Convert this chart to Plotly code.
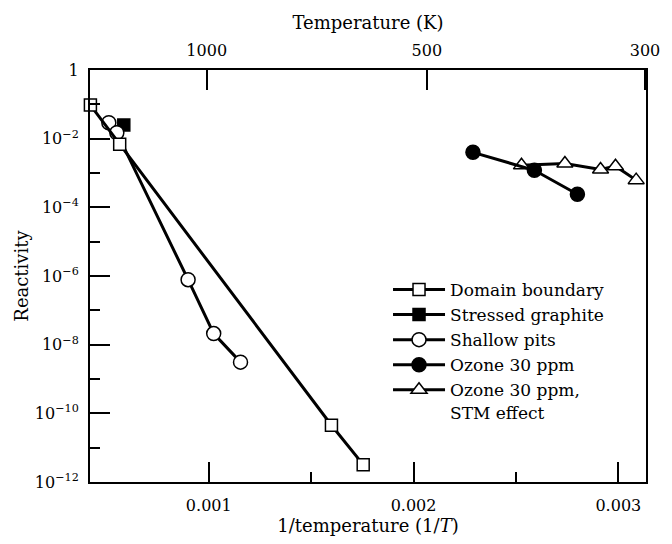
import plotly.graph_objects as go

# Reactivity versus inverse temperature for several oxidation mechanisms
domain_x = [0.000422, 0.000565, 0.001599, 0.001754]
domain_y = [0.095, 6.9e-3, 4.5e-11, 3.2e-12]

stressed_x = [0.000585]
stressed_y = [0.025]

pits_x = [0.000512, 0.000551, 0.000899, 0.001024, 0.001155]
pits_y = [0.029, 0.0149, 7.8e-7, 2.1e-8, 3.1e-9]

ozone_x = [0.00229, 0.00259, 0.00280]
ozone_y = [4.0e-3, 1.2e-3, 2.4e-4]

stm_x = [0.002527, 0.002739, 0.002913, 0.002986, 0.003087]
stm_y = [1.67e-3, 1.9e-3, 1.27e-3, 1.58e-3, 6.2e-4]

# axis ticks
x_ticks = [0.001, 0.002, 0.003]
x_ticktext = ["0.001", "0.002", "0.003"]
x_minor = [0.0015, 0.0025]
temp_tick_pos = [0.00099, 0.002065, 0.00313]
temp_ticktext = ["1000", "500", "300"]
y_major = [1e-12, 1e-10, 1e-8, 1e-6, 1e-4, 1e-2, 1]
y_ticktext = ["10<sup>−12</sup>", "10<sup>−10</sup>", "10<sup>−8</sup>",
              "10<sup>−6</sup>", "10<sup>−4</sup>", "10<sup>−2</sup>", "1"]
y_minor = [1e-11, 1e-9, 1e-7, 1e-5, 1e-3, 1e-1]

FONT = "DejaVu Serif"
LINE = dict(color="black", width=3)


def series(name, x, y, symbol, fill, size, rank):
    return go.Scatter(
        x=x, y=y, name=name, mode="lines+markers", line=LINE,
        marker=dict(symbol=symbol, size=size, color=fill,
                    line=dict(color="black", width=1.5)),
        cliponaxis=False, legendrank=rank,
    )


fig = go.Figure()
fig.add_trace(series("Stressed graphite", stressed_x, stressed_y, "square", "black", 12, 2))
fig.add_trace(series("Shallow pits", pits_x, pits_y, "circle", "white", 14, 3))
fig.add_trace(series("Domain boundary", domain_x, domain_y, "square", "white", 12, 1))
fig.add_trace(series("Ozone 30 ppm,<br>STM effect", stm_x, stm_y, "triangle-up", "white", 14, 5))
fig.add_trace(series("Ozone 30 ppm", ozone_x, ozone_y, "circle", "black", 14, 4))
# carrier for the temperature axis along the top
fig.add_trace(go.Scatter(x=[0.002], y=[1e-6], xaxis="x2", mode="markers",
                         marker=dict(opacity=0), showlegend=False, hoverinfo="skip"))

x_range = [0.000420, 0.003135]
axis_common = dict(showline=True, linecolor="black", linewidth=2, ticks="inside",
                   tickcolor="black", tickwidth=2, ticklen=20, showgrid=False,
                   zeroline=False, tickfont=dict(family=FONT, size=16, color="black"))

fig.update_layout(
    width=672, height=544,
    margin=dict(l=90, r=20, t=70, b=58),
    paper_bgcolor="white", plot_bgcolor="white",
    font=dict(family=FONT, color="black"),
    xaxis=dict(range=x_range, tickmode="array", tickvals=x_ticks, ticktext=x_ticktext,
               minor=dict(tickvals=x_minor, ticks="inside", ticklen=10, tickwidth=2,
                          tickcolor="black"),
               mirror=True, ticklabelstandoff=8,
               title=dict(text="1/temperature (1/<i>T</i>)", font=dict(family=FONT, size=18),
                          standoff=4),
               **axis_common),
    xaxis2=dict(range=x_range, overlaying="x", side="top", matches="x",
                tickmode="array", tickvals=temp_tick_pos, ticktext=temp_ticktext,
                ticklabelstandoff=6,
                title=dict(text="Temperature (K)", font=dict(family=FONT, size=18),
                           standoff=6),
                **axis_common),
    yaxis=dict(type="log", range=[-12, 0], tickmode="array", tickvals=y_major,
               ticktext=y_ticktext, mirror=True, ticklabelstandoff=6,
               minor=dict(tickvals=y_minor, ticks="inside", ticklen=10, tickwidth=2,
                          tickcolor="black"),
               title=dict(text="Reactivity", font=dict(family=FONT, size=18), standoff=2),
               **axis_common),
    legend=dict(x=0.536, y=0.51, xanchor="left", yanchor="top",
                bgcolor="rgba(0,0,0,0)", font=dict(family=FONT, size=17, color="black"),
                valign="top", itemwidth=52),
    showlegend=True,
)

fig.write_html("out.html")
